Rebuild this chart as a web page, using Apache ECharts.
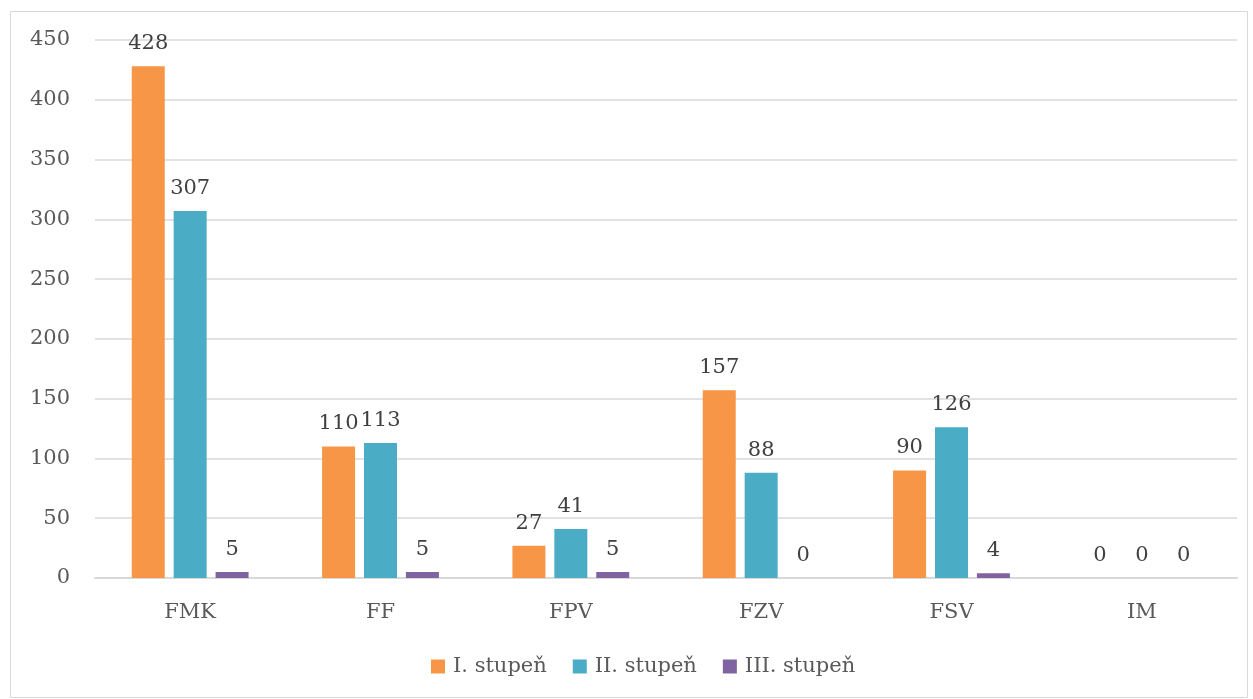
<!DOCTYPE html>
<html><head><meta charset="utf-8">
<script src="https://cdn.jsdelivr.net/npm/echarts@6/dist/echarts.min.js"></script>
<style>html,body{margin:0;padding:0;background:#fff;}#c{width:1253px;height:699px;}</style>
</head><body><div id="c"></div>
<script>
const categories = ['FMK','FF','FPV','FZV','FSV','IM'];
const seriesNames = ['I. stupeň','II. stupeň','III. stupeň'];
const stupen1 = [428,110,27,157,90,0];
const stupen2 = [307,113,41,88,126,0];
const stupen3 = [5,5,5,0,4,0];
const colors = ['#F79646','#4BACC6','#8064A2'];
const FONT = 'DejaVu Serif';
const chart = echarts.init(document.getElementById('c'));
const data = [stupen1, stupen2, stupen3];
chart.setOption({
  animation:false,
  textStyle:{fontFamily:FONT},
  graphic:[{type:'rect',shape:{x:10.5,y:11.5,width:1237,height:686},style:{fill:'none',stroke:'#D9D9D9',lineWidth:1},silent:true}],
  grid:{left:95,right:16,top:40,bottom:121,containLabel:false},
  legend:{bottom:17,left:426,itemWidth:14,itemHeight:14,itemGap:26,icon:'rect',
    textStyle:{fontFamily:FONT,fontSize:21,color:'#595959',padding:[0,0,0,3]},data:seriesNames},
  xAxis:{type:'category',data:categories,
    axisLine:{lineStyle:{color:'#D9D9D9',width:2}},axisTick:{show:false},
    axisLabel:{fontFamily:FONT,fontSize:21,color:'#595959',margin:24}},
  yAxis:{type:'value',min:0,max:450,interval:50,
    axisLine:{show:false},axisTick:{show:false},
    splitLine:{lineStyle:{color:'#D9D9D9',width:1.5}},
    axisLabel:{fontFamily:FONT,fontSize:21,color:'#595959',margin:25}},
  series: seriesNames.map((n,i)=>({
    name:n,type:'bar',data:data[i],barWidth:33,barGap:'27%',barCategoryGap:'38%',
    itemStyle:{color:colors[i]},
    label:{show:true,position:'top',distance:12,fontFamily:FONT,fontSize:21,color:'#404040'}
  }))
});
</script></body></html>
